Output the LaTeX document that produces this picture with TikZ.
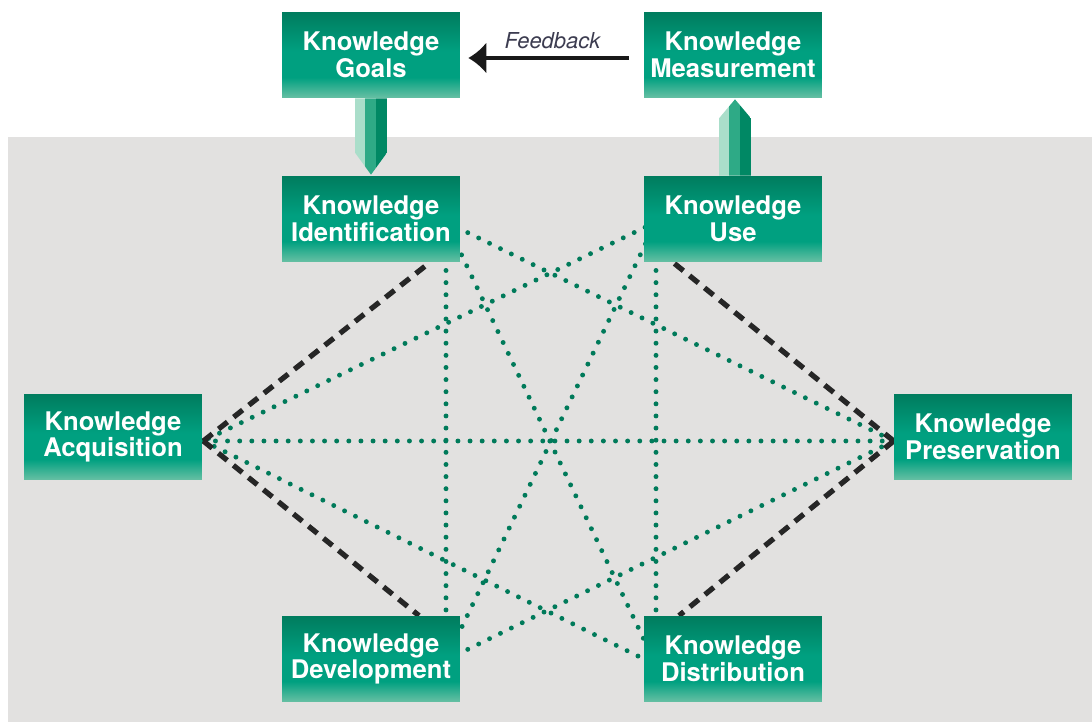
\documentclass[tikz,border=0pt]{standalone}
\usepackage{fontspec}
\setsansfont{TeX Gyre Heros}
\usetikzlibrary{arrows.meta}

\definecolor{kmdark}{RGB}{0,124,94}
\definecolor{kmmid}{RGB}{0,160,128}
\definecolor{kmlight}{RGB}{104,192,164}
\definecolor{kmpale}{RGB}{170,222,202}
\definecolor{kmprism}{RGB}{46,170,134}
\definecolor{kmdeep}{RGB}{0,136,100}
\definecolor{kmdot}{RGB}{0,122,90}
\definecolor{kmgray}{RGB}{226,225,224}
\definecolor{kmtext}{RGB}{60,60,80}

\pgfdeclareverticalshading{kmbox}{100bp}{color(0bp)=(kmlight); color(25bp)=(kmlight); color(37bp)=(kmmid); color(52bp)=(kmmid); color(75bp)=(kmdark); color(100bp)=(kmdark)}

\pgfdeclarelayer{bg}
\pgfdeclarelayer{links}
\pgfsetlayers{bg,links,main}

\tikzset{
	kbox/.style={shade, shading=kmbox, minimum width=3.56cm, minimum height=1.72cm, inner sep=0pt,
		align=center, text=white, font=\sffamily\bfseries\fontsize{14.6}{15.2}\selectfont},
	kdotted/.style={kmdot, line width=2.8pt, line cap=round, dash pattern=on 0pt off 6.9pt},
	kdashed/.style={black!85, line width=3pt, dash pattern=on 6.5pt off 4.5pt},
	fbarrow/.style={black!90, line width=2pt, -{Latex[length=0.36cm,width=0.64cm]}}
}

\begin{document}
\begin{tikzpicture}[x=0.02cm,y=-0.02cm]
	\useasboundingbox (0,0) rectangle (1092,722);

	\begin{pgfonlayer}{bg}
		\fill[kmgray] (8,137) rectangle (1092,722);
	\end{pgfonlayer}

	% the eight building blocks
	\node[kbox] (goals) at (371,55) {Knowledge\\Goals};
	\node[kbox] (meas) at (733,55) {Knowledge\\Measurement};
	\node[kbox] (ident) at (371,219) {Knowledge\\Identification};
	\node[kbox] (use) at (733,219) {Knowledge\\Use};
	\node[kbox] (acq) at (113,437) {Knowledge\\Acquisition};
	\node[kbox] (pres) at (983,437) {Knowledge\\Preservation};
	\node[kbox] (dev) at (371,659) {Knowledge\\Development};
	\node[kbox] (dist) at (733,659) {Knowledge\\Distribution};

	\coordinate (identP) at ([shift={(75,3)}]ident.center);
	\coordinate (useP) at ([shift={(-77,3)}]use.center);
	\coordinate (devP) at ([shift={(75,1)}]dev.center);
	\coordinate (distP) at ([shift={(-77,6)}]dist.center);
	\coordinate (acqP) at ([shift={(1,4)}]acq.east);
	\coordinate (presP) at ([shift={(0,4)}]pres.west);

	\begin{pgfonlayer}{links}
		\draw[kdotted] (identP) -- (devP);
		\draw[kdotted] (identP) -- (distP);
		\draw[kdotted] (identP) -- (presP);
		\draw[kdotted] (useP) -- (distP);
		\draw[kdotted] (useP) -- (devP);
		\draw[kdotted] (useP) -- (acqP);
		\draw[kdotted] (acqP) -- (presP);
		\draw[kdotted] (acqP) -- (distP);
		\draw[kdotted] (devP) -- (presP);

		\draw[kdashed] (acqP) -- ([xshift=59*0.02cm]ident.south);
		\draw[kdashed] (acqP) -- ([xshift=48*0.02cm]dev.north);
		\draw[kdashed] (presP) -- ([xshift=-60*0.02cm]use.south);
		\draw[kdashed] (presP) -- ([xshift=-54*0.02cm]dist.north);
	\end{pgfonlayer}

	% goals down to identification
	\begin{scope}
		\clip ([shift={(-16,0)}]goals.south) -- ([shift={(16,0)}]goals.south)
			-- ([shift={(16,-23)}]ident.north) -- ([shift={(0,-1)}]ident.north)
			-- ([shift={(-16,-23)}]ident.north) -- cycle;
		\fill[kmpale] ([shift={(-16,0)}]goals.south) rectangle ([shift={(-6,0)}]ident.north);
		\fill[kmprism] ([shift={(-6,0)}]goals.south) rectangle ([shift={(5,0)}]ident.north);
		\fill[kmdeep] ([shift={(5,0)}]goals.south) rectangle ([shift={(16,0)}]ident.north);
	\end{scope}

	% use up to measurement
	\begin{scope}
		\clip ([shift={(-14,0)}]use.north) -- ([shift={(18,0)}]use.north)
			-- ([shift={(18,20)}]meas.south) -- ([shift={(2,1)}]meas.south)
			-- ([shift={(-14,20)}]meas.south) -- cycle;
		\fill[kmpale] ([shift={(-14,0)}]use.north) rectangle ([shift={(-4,0)}]meas.south);
		\fill[kmprism] ([shift={(-4,0)}]use.north) rectangle ([shift={(7,0)}]meas.south);
		\fill[kmdeep] ([shift={(7,0)}]use.north) rectangle ([shift={(18,0)}]meas.south);
	\end{scope}

	\draw[fbarrow] ([shift={(-15,3)}]meas.west) -- node[above=1pt, xshift=4*0.02cm, text=kmtext,
		font=\sffamily\itshape\fontsize{12.5}{13}\selectfont] (fb) {Feedback} ([shift={(8,3)}]goals.east);
\end{tikzpicture}
\end{document}
